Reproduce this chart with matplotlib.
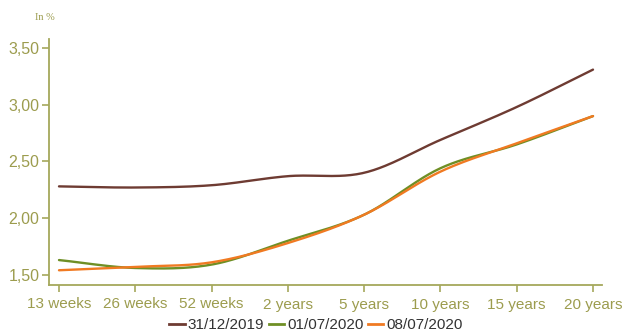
import numpy as np
import matplotlib
matplotlib.use("Agg")
import matplotlib.pyplot as plt
from matplotlib.lines import Line2D

plt.rcParams['font.family'] = ['Liberation Sans', 'DejaVu Sans']

maturities = ["13 weeks", "26 weeks", "52 weeks", "2 years", "5 years",
              "10 years", "15 years", "20 years"]
series_names = ["31/12/2019", "01/07/2020", "08/07/2020"]
yield_2019_12_31 = [2.28, 2.27, 2.29, 2.37, 2.40, 2.69, 2.98, 3.31]
yield_2020_07_01 = [1.63, 1.56, 1.59, 1.80, 2.03, 2.44, 2.65, 2.90]
yield_2020_07_08 = [1.54, 1.57, 1.61, 1.78, 2.03, 2.41, 2.66, 2.90]
y_ticks = [1.50, 2.00, 2.50, 3.00, 3.50]
y_tick_labels = ["1,50", "2,00", "2,50", "3,00", "3,50"]

colors = ["#6e3b32", "#6f8f25", "#f07a22"]
axis_color = "#a5a85c"
label_color = "#9c9c4e"


def smooth(xs, ys, n=40):
    """Catmull-Rom spline through the given points."""
    xs = np.asarray(xs, float)
    ys = np.asarray(ys, float)
    px = np.concatenate([[2 * xs[0] - xs[1]], xs, [2 * xs[-1] - xs[-2]]])
    py = np.concatenate([[2 * ys[0] - ys[1]], ys, [2 * ys[-1] - ys[-2]]])
    out_x, out_y = [], []
    t = np.linspace(0, 1, n, endpoint=False)
    for i in range(1, len(px) - 2):
        for p, out in ((px, out_x), (py, out_y)):
            p0, p1, p2, p3 = p[i - 1], p[i], p[i + 1], p[i + 2]
            v = 0.5 * ((2 * p1) + (-p0 + p2) * t
                       + (2 * p0 - 5 * p1 + 4 * p2 - p3) * t ** 2
                       + (-p0 + 3 * p1 - 3 * p2 + p3) * t ** 3)
            out.extend(v)
    out_x.append(xs[-1])
    out_y.append(ys[-1])
    return np.array(out_x), np.array(out_y)


fig = plt.figure(figsize=(6.22, 3.36), dpi=100)
ax = fig.add_axes([49 / 622, 1 - 285 / 336, (602 - 49) / 622, (285 - 39) / 336])

x = np.arange(len(maturities))
for vals, c in zip([yield_2019_12_31, yield_2020_07_01, yield_2020_07_08], colors):
    sx, sy = smooth(x, vals)
    ax.plot(sx, sy, color=c, lw=1.7, solid_capstyle='round')

ax.set_xlim(-0.131, 7.118)
ax.set_ylim(1.41, 3.58)
ax.set_xticks(x)
ax.set_xticklabels(maturities)
ax.set_yticks(y_ticks)
ax.set_yticklabels(y_tick_labels)

for side in ("top", "right"):
    ax.spines[side].set_visible(False)
for side in ("left", "bottom"):
    ax.spines[side].set_color(axis_color)
    ax.spines[side].set_linewidth(1.3)

ax.tick_params(axis='x', colors=axis_color, labelcolor=label_color,
               labelsize=11, length=5, width=1.2, pad=4)
ax.tick_params(axis='y', colors=axis_color, labelcolor=label_color,
               labelsize=11.5, length=5, width=1.2, pad=2)

fig.text(35 / 622, 1 - 18 / 336, "In %", fontsize=7.5, color=label_color,
         family=['Liberation Serif', 'DejaVu Serif'], va='center')

handles = [Line2D([0], [0], color=c, lw=2) for c in colors]
fig.legend(handles, series_names, loc='center', bbox_to_anchor=(316 / 622, 1 - 325 / 336),
           ncol=3, frameon=False, fontsize=11, handlelength=1.0, handletextpad=0.2,
           columnspacing=0.3, labelcolor="#333333", borderaxespad=0, borderpad=0)

fig.savefig("out.png", dpi=100, facecolor="white")
